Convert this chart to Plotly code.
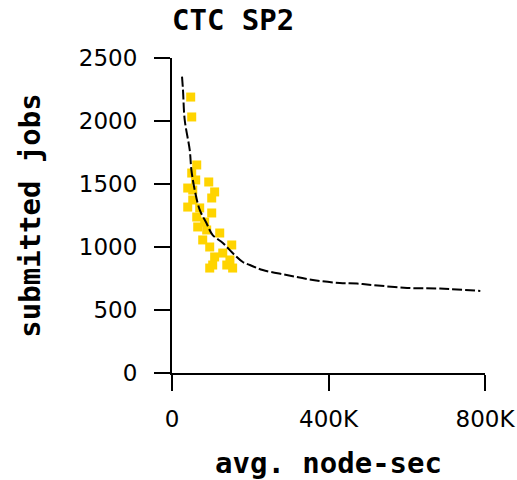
import plotly.graph_objects as go

# Observed jobs: average node-seconds (thousands) vs. submitted jobs
obs_node_sec_k = [47.8, 50.4, 63.2, 50.4, 60.6, 93.9, 109.0, 101.5, 40.2, 53.0,
                  40.2, 70.8, 101.5, 63.2, 65.7, 88.7, 122.0, 78.5, 96.4, 152.7,
                  129.7, 109.0, 104.0, 140.0, 148.0, 96.4, 155.0, 53.0, 83.6]
obs_jobs = [2190, 2032, 1651, 1587, 1532, 1516, 1437, 1389, 1468, 1373,
            1317, 1310, 1270, 1238, 1159, 1135, 1111, 1056, 1000, 1016,
            952, 921, 857, 857, 897, 833, 833, 1452, 1198]

# Model curve
curve_node_sec_k = [25.6, 28.1, 32.5, 45.3, 49.6, 58.1, 70.9, 88.0, 104.0, 130.0,
                    155.0, 181.0, 199.0, 232.0, 293.0, 360.0, 429.0, 473.0, 514.0,
                    601.0, 685.0, 788.0]
curve_jobs = [2352, 2246, 2008, 1770, 1611, 1452, 1294, 1190, 1095, 1032,
              952, 881, 857, 817, 778, 738, 714, 710, 698,
              675, 670, 651]

x_tick_vals = [0, 400, 800]
x_tick_text = ["0", "400K", "800K"]
y_tick_vals = [0, 500, 1000, 1500, 2000, 2500]

title_font = dict(family="DejaVu Sans Mono", size=29, color="black", weight="bold")
tick_font = dict(family="DejaVu Sans", size=23, color="black")

fig = go.Figure()
fig.add_trace(go.Scatter(
    x=obs_node_sec_k, y=obs_jobs, mode="markers",
    marker=dict(symbol="square", size=9, color="#FFD400", line=dict(width=0)),
    hoverinfo="skip", showlegend=False,
))
fig.add_trace(go.Scatter(
    x=curve_node_sec_k, y=curve_jobs, mode="lines",
    line=dict(color="black", width=2, dash="10px,3px", shape="spline"),
    hoverinfo="skip", showlegend=False,
))

fig.update_layout(
    width=517, height=480,
    margin=dict(l=172, r=32, t=58, b=107),
    paper_bgcolor="white", plot_bgcolor="white",
    title=dict(text="CTC SP2", font=title_font, x=172 / 517, xanchor="left",
               xref="container", y=1 - 20 / 480, yanchor="middle", yref="container"),
    xaxis=dict(
        range=[0, 800], tickvals=x_tick_vals, ticktext=x_tick_text, automargin=False,
        showgrid=False, zeroline=False, showline=True, linecolor="black", linewidth=2,
        ticks="outside", ticklen=16, tickwidth=2, tickcolor="black",
        tickfont=tick_font, ticklabelstandoff=8,
        title=dict(text="avg. node-sec", font=title_font, standoff=30),
    ),
    yaxis=dict(
        range=[0, 2500], tickvals=y_tick_vals, automargin=False,
        showgrid=False, zeroline=False, showline=True, linecolor="black", linewidth=2,
        ticks="outside", ticklen=16, tickwidth=2, tickcolor="black",
        tickfont=tick_font, ticklabelstandoff=12,
        title=dict(text="submitted jobs", font=title_font, standoff=30),
    ),
)

fig.write_html("out.html")
